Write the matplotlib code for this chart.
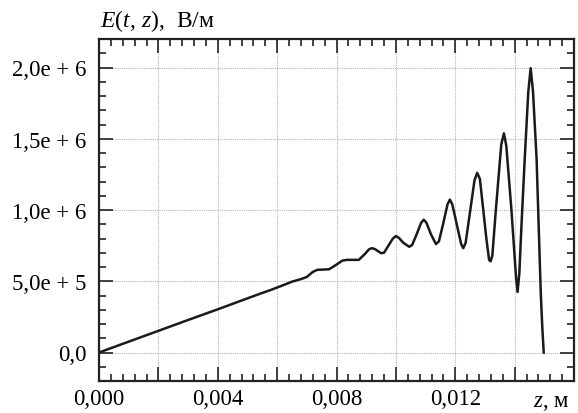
import numpy as np
import matplotlib
matplotlib.use("Agg")
import matplotlib.pyplot as plt
from matplotlib.ticker import MultipleLocator, FixedLocator, FixedFormatter

plt.rcParams['font.family'] = ['Liberation Serif', 'DejaVu Serif']
plt.rcParams['mathtext.fontset'] = 'custom'
plt.rcParams['mathtext.rm'] = 'Liberation Serif'
plt.rcParams['mathtext.it'] = 'Liberation Serif:italic'

# z in mm, E in 1e6 V/m
z_mm = [0.0, 1.0, 2.0, 3.0, 4.0, 5.0, 5.5, 5.8, 6.0, 6.3, 6.5, 6.8, 7.0,
        7.2, 7.35, 7.75, 7.95, 8.2, 8.35, 8.75, 8.95, 9.1, 9.2, 9.3, 9.5,
        9.6, 9.75, 9.9, 10.0, 10.1, 10.25, 10.45, 10.55, 10.7, 10.85, 10.94,
        11.03, 11.18, 11.35, 11.45, 11.6, 11.74, 11.82, 11.9, 12.05, 12.2,
        12.27, 12.35, 12.5, 12.65, 12.74, 12.83, 13.05, 13.14, 13.19, 13.25,
        13.37, 13.55, 13.64, 13.72, 13.89, 14.05, 14.10, 14.16, 14.23, 14.34,
        14.46, 14.54, 14.62, 14.74, 14.81, 14.88, 14.93, 14.98]
E_M = [0.0, 0.076, 0.152, 0.228, 0.303, 0.380, 0.418, 0.440, 0.456, 0.480,
       0.497, 0.515, 0.530, 0.565, 0.580, 0.584, 0.610, 0.645, 0.650, 0.650,
       0.690, 0.725, 0.732, 0.725, 0.697, 0.700, 0.750, 0.800, 0.817, 0.805,
       0.770, 0.742, 0.755, 0.830, 0.910, 0.932, 0.910, 0.830, 0.761, 0.780,
       0.910, 1.040, 1.073, 1.040, 0.900, 0.760, 0.732, 0.770, 0.990, 1.210,
       1.261, 1.218, 0.796, 0.650, 0.640, 0.680, 1.007, 1.460, 1.538, 1.450,
       1.007, 0.520, 0.425, 0.560, 0.889, 1.359, 1.829, 1.995, 1.829, 1.359,
       0.889, 0.420, 0.185, 0.0]

x_ticks = [0.0, 0.002, 0.004, 0.006, 0.008, 0.010, 0.012, 0.014, 0.016]
x_labels = ["0,000", "", "0,004", "", "0,008", "", "0,012", "", ""]
y_ticks = [0.0, 0.5e6, 1.0e6, 1.5e6, 2.0e6]
y_labels = ["0,0", "5,0e + 5", "1,0e + 6", "1,5e + 6", "2,0e + 6"]

z = np.array(z_mm) * 1e-3
E = np.array(E_M) * 1e6

fig = plt.figure(figsize=(5.78, 4.14), dpi=100)
ax = fig.add_axes([99/578, 32/414, 475/578, 342/414])

ax.plot(z, E, color='#1a1a1a', lw=1.8)

ax.set_xlim(0, 0.016)
ax.set_ylim(-0.2e6, 2.2e6)

ax.xaxis.set_major_locator(FixedLocator(x_ticks))
ax.xaxis.set_major_formatter(FixedFormatter(x_labels))
ax.xaxis.set_minor_locator(MultipleLocator(0.0004))
ax.yaxis.set_major_locator(FixedLocator(y_ticks))
ax.yaxis.set_major_formatter(FixedFormatter(y_labels))
ax.yaxis.set_minor_locator(MultipleLocator(0.1e6))

ax.tick_params(which='both', direction='in', top=True, right=True,
               color='#222222', width=1.2)
ax.tick_params(which='major', length=10, labelsize=16.5)
ax.tick_params(which='minor', length=5)
ax.tick_params(axis='y', pad=9)
ax.tick_params(axis='x', pad=5)

ax.grid(True, which='major', color='#b4b4b4', lw=0.8, ls=(0, (1, 1)))
for s in ax.spines.values():
    s.set_linewidth(1.6)
    s.set_color('#222222')

ax.text(0.99, -0.03, "$z$, м", transform=ax.transAxes, ha='right', va='top',
        fontsize=16.5)
fig.text(100/578, 1 - 27/414, "$E(t,\\,z)$,  В/м", ha='left', va='baseline',
         fontsize=17)

fig.savefig("out.png", dpi=100)
